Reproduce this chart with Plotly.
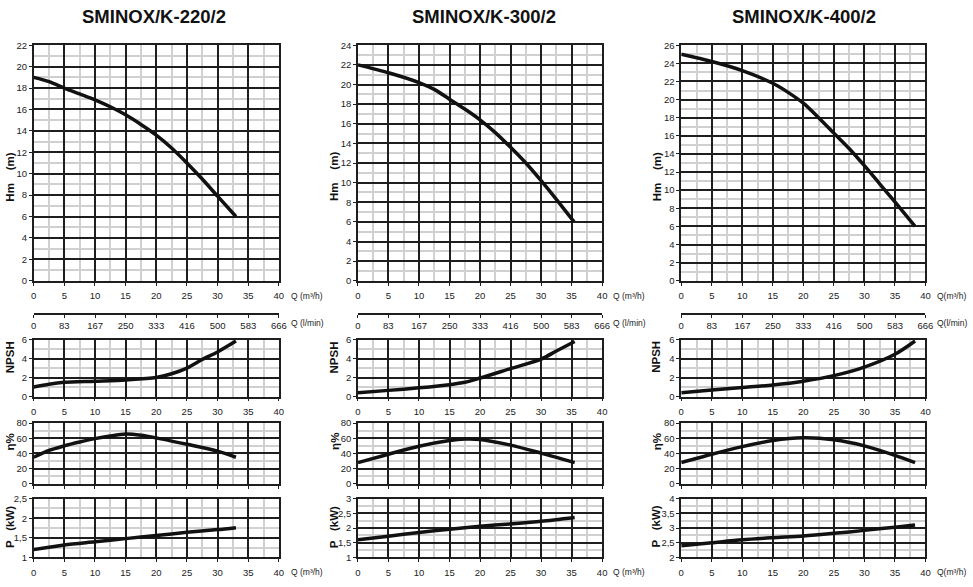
import plotly.graph_objects as go

W, H = 973, 587

titles = ["SMINOX/K-220/2", "SMINOX/K-300/2", "SMINOX/K-400/2"]

# --- K-220/2 ---
q_h1 = [0, 2.5, 5, 7.5, 10, 12.5, 15, 17.5, 20, 22.5, 25, 27.5, 30, 33]
hm1 = [19, 18.6, 18.0, 17.45, 16.9, 16.25, 15.5, 14.6, 13.6, 12.4, 11.0, 9.5, 7.9, 6.0]
q_n1 = [0, 2.5, 5, 10, 15, 20, 22.5, 25, 27.5, 30, 33]
npsh1 = [1.0, 1.3, 1.5, 1.62, 1.75, 2.0, 2.4, 3.0, 3.9, 4.7, 5.85]
q_e1 = [0, 2.5, 5, 7.5, 10, 12.5, 15, 17.5, 20, 25, 30, 33]
eta1 = [35, 44, 50, 55, 59.5, 63, 65.5, 64, 60.5, 52, 43, 35]
q_p1 = [0, 5, 10, 15, 20, 25, 30, 33]
p1 = [1.2, 1.32, 1.4, 1.48, 1.56, 1.64, 1.71, 1.76]

# --- K-300/2 ---
q_h2 = [0, 5, 10, 12.5, 15, 17.5, 20, 22.5, 25, 27.5, 30, 32.5, 35.4]
hm2 = [22, 21.2, 20.2, 19.5, 18.5, 17.5, 16.4, 15.1, 13.6, 12.0, 10.2, 8.3, 6.0]
q_n2 = [0, 5, 10, 15, 17.5, 20, 25, 30, 32.5, 35.5]
npsh2 = [0.4, 0.65, 0.92, 1.25, 1.5, 1.95, 2.95, 3.95, 4.8, 5.8]
q_e2 = [0, 5, 10, 15, 17.5, 20, 25, 30, 35.5]
eta2 = [28, 39, 49.5, 57, 59, 58.5, 51, 40.5, 28]
q_p2 = [0, 5, 10, 15, 20, 25, 30, 35.5]
p2 = [1.6, 1.72, 1.85, 1.96, 2.06, 2.14, 2.23, 2.36]

# --- K-400/2 ---
q_h3 = [0, 5, 10, 15, 17.5, 20, 22.5, 25, 27.5, 30, 32.5, 35, 38.3]
hm3 = [25, 24.2, 23.2, 21.8, 20.8, 19.6, 18.0, 16.3, 14.6, 12.7, 10.7, 8.7, 6.0]
q_n3 = [0, 5, 10, 15, 20, 25, 30, 35, 38.3]
npsh3 = [0.4, 0.68, 0.95, 1.22, 1.62, 2.2, 3.1, 4.45, 5.85]
q_e3 = [0, 5, 10, 15, 20, 25, 30, 35, 38.3]
eta3 = [28, 39, 49, 57, 60.5, 58, 50, 37.5, 28]
q_p3 = [0, 5, 10, 15, 20, 25, 30, 35, 38.3]
p3 = [2.4, 2.5, 2.6, 2.67, 2.73, 2.82, 2.92, 3.03, 3.1]

lmin_ticks = [0, 83, 167, 250, 333, 416, 500, 583, 666]

series = [
    [(q_h1, hm1), (q_n1, npsh1), (q_e1, eta1), (q_p1, p1)],
    [(q_h2, hm2), (q_n2, npsh2), (q_e2, eta2), (q_p2, p2)],
    [(q_h3, hm3), (q_n3, npsh3), (q_e3, eta3), (q_p3, p3)],
]

# y ranges: (min, max, dtick, minor)
yspec = [
    [(0, 22, 2, 1), (0, 6, 2, 1), (0, 80, 20, 10), (1, 2.5, 0.5, 0.25)],
    [(0, 24, 2, 1), (0, 6, 2, 1), (0, 80, 20, 10), (1, 3, 0.5, 0.25)],
    [(0, 26, 2, 1), (0, 6, 2, 1), (0, 80, 20, 10), (2, 4, 0.5, 0.25)],
]

col_px = [(31, 279), (359, 606), (686, 933)]
row_px = [(40, 280), (340, 398), (425, 487), (502, 562)]

DARK = "#1e1e1e"
LIGHT = "#d0d0d0"
NARROW = "Liberation Sans Narrow, Arial Narrow, sans-serif"
BOLD = "Liberation Sans, Arial, sans-serif"
TICKFONT = dict(family=NARROW, size=9.5, color="#222")

fig = go.Figure()
layout = dict(
    width=W, height=H, autosize=False,
    margin=dict(l=0, r=0, t=0, b=0),
    paper_bgcolor="white", plot_bgcolor="white",
    showlegend=False, separators=", ",
)

def xd(px):
    return px / W

def yd(px):
    return 1 - px / H

annotations = []

for c in range(3):
    for r in range(4):
        k = c * 4 + r + 1
        xn = "x" if k == 1 else f"x{k}"
        yn = "y" if k == 1 else f"y{k}"
        xs, ys = series[c][r]
        fig.add_trace(go.Scatter(
            x=xs, y=ys, xaxis=xn, yaxis=yn, mode="lines",
            line=dict(color="#111", width=3.5, shape="spline", smoothing=0.8),
            hoverinfo="skip", showlegend=False,
        ))
        y0, y1, dt, mn = yspec[c][r]
        layout[f"xaxis{k}"] = dict(
            domain=[xd(col_px[c][0]), xd(col_px[c][1])],
            anchor=yn, range=[0, 40], dtick=5, tick0=0,
            showgrid=True, gridcolor=DARK, gridwidth=1.5,
            minor=dict(dtick=2.5, showgrid=True, gridcolor=LIGHT, gridwidth=1.5, ticks=""),
            showline=True, linecolor=DARK, linewidth=1.5, mirror=True,
            ticks="outside", ticklen=3, tickcolor=DARK,
            showticklabels=(r != 2), tickfont=TICKFONT, zeroline=False,
            ticklabelstandoff=2,
        )
        layout[f"yaxis{k}"] = dict(
            domain=[yd(row_px[r][1]), yd(row_px[r][0])],
            anchor=xn, range=[y0, y1], dtick=dt, tick0=0,
            showgrid=True, gridcolor=DARK, gridwidth=1.5,
            minor=dict(dtick=mn, showgrid=True, gridcolor=LIGHT, gridwidth=1.5, ticks=""),
            showline=True, linecolor=DARK, linewidth=1.5, mirror=True,
            ticks="outside", ticklen=3, tickcolor=DARK,
            tickfont=TICKFONT, zeroline=False,
        )

    # secondary Q (l/min) axis
    k2 = 13 + c
    main_x = "x" if c == 0 else f"x{c * 4 + 1}"
    main_y = "y" if c == 0 else f"y{c * 4 + 1}"
    fig.add_trace(go.Scatter(
        x=[0, 666], y=[None, None], xaxis=f"x{k2}", yaxis=main_y,
        mode="lines", hoverinfo="skip", showlegend=False,
    ))
    layout[f"xaxis{k2}"] = dict(
        overlaying=main_x, anchor="free", position=yd(314), side="bottom",
        range=[0, 666], tickvals=lmin_ticks, ticktext=[str(v) for v in lmin_ticks],
        showgrid=False, zeroline=False,
        showline=True, linecolor=DARK, linewidth=1.5,
        ticks="outside", ticklen=3, tickcolor=DARK, tickfont=TICKFONT,
    )

    # title
    cx = [153, 486, 810][c]
    annotations.append(dict(
        text=f"<b>{titles[c]}</b>", x=xd(cx), y=yd(11), xref="paper", yref="paper",
        xanchor="center", yanchor="middle", showarrow=False,
        font=dict(family=NARROW, size=18.5, color="#111"),
    ))

    # axis titles
    tx = [7, 335, 661][c]
    for text, ypx in [("Hm\u00a0\u00a0\u00a0\u00a0(m)", 174), ("NPSH", 358),
                      ("η%", 444), ("P\u00a0\u00a0\u00a0(kW)", 531)]:
        annotations.append(dict(
            text=f"<b>{text}</b>", x=xd(tx), y=yd(ypx), xref="paper", yref="paper",
            xanchor="center", yanchor="middle", showarrow=False, textangle=-90,
            font=dict(family=BOLD, size=11.5, color="#111"),
        ))

    # Q unit labels
    qx = [289, 615, 943][c]
    sp = "" if c == 2 else " "
    for text, ypx in [(f"Q{sp}(m³/h)", 296), (f"Q{sp}(l/min)", 323), (f"Q{sp}(m³/h)", 577)]:
        annotations.append(dict(
            text=text, x=xd(qx), y=yd(ypx), xref="paper", yref="paper",
            xanchor="left", yanchor="middle", showarrow=False,
            font=dict(family=NARROW, size=8.5, color="#222"),
        ))

layout["annotations"] = annotations
fig.update_layout(**layout)
fig.write_html("out.html")
